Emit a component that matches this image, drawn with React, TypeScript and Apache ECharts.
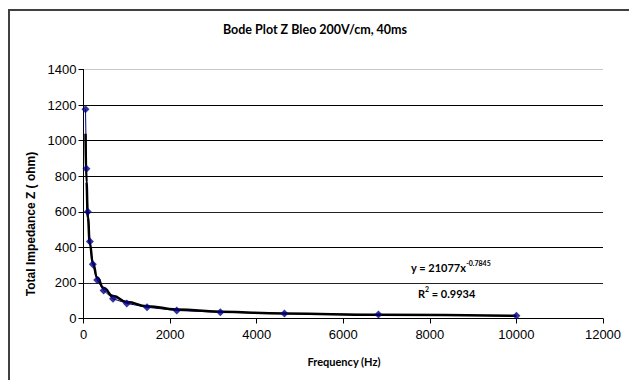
import React, { useEffect, useRef } from "react";
import * as echarts from "echarts";

const frequencies = [46.4, 68.1, 100, 146.8, 215.4, 316.2, 464.2, 681.3, 1000, 1468, 2154, 3162, 4642, 6813, 10000];
const impedance = [1177, 842, 600, 433, 305, 216, 158, 111, 85, 63, 45, 35, 28, 22, 15];
const trendValues = [1039, 768, 569, 421, 312, 230, 171, 126, 93, 69, 51, 38, 28, 21, 15];
const xTicks = { min: 0, max: 12000, interval: 2000 };
const yTicks = { min: 0, max: 1400, interval: 200 };
const titleText = "Bode Plot Z Bleo 200V/cm, 40ms";
const xName = "Frequency (Hz)";
const yName = "Total Impedance Z ( ohm)";

export default function App() {
  const ref = useRef<HTMLDivElement>(null);
  useEffect(() => {
    if (!ref.current) return;
    const chart = echarts.init(ref.current, null, { renderer: "svg" });
    const dataPts = frequencies.map((f, i) => [f, impedance[i]]);
    const trendPts = frequencies.map((f, i) => [f, trendValues[i]]);
    const gridColors = ["#000", "#222", "#000", "#222", "#000", "#000", "#000", "#c8c8c8"];
    const labelStyle = {
      color: "#000",
      fontFamily: "Liberation Sans, Arial, sans-serif",
      fontSize: 13,
      formatter: (v: number) => String(v),
    };
    chart.setOption({
      animation: false,
      backgroundColor: "#fff",
      textStyle: { fontFamily: "Liberation Sans, Arial, sans-serif" },
      grid: { left: 83.5, right: 26, top: 69.5, bottom: 61.5, containLabel: false },
      xAxis: {
        type: "value",
        min: xTicks.min,
        max: xTicks.max,
        interval: xTicks.interval,
        axisLine: { show: true, onZero: false, lineStyle: { color: "#000", width: 1 } },
        axisTick: { show: true, inside: false, length: 5, lineStyle: { color: "#000" } },
        axisLabel: { ...labelStyle, margin: 9 },
        splitLine: { show: false },
      },
      yAxis: {
        type: "value",
        min: yTicks.min,
        max: yTicks.max,
        interval: yTicks.interval,
        axisLine: { show: true, lineStyle: { color: "#000", width: 1 } },
        axisTick: { show: true, inside: false, length: 5, lineStyle: { color: "#000" } },
        axisLabel: { ...labelStyle, margin: 7 },
        splitLine: { show: true, lineStyle: { color: gridColors, width: 1 } },
      },
      series: [
        {
          type: "line",
          data: dataPts,
          symbol: "none",
          lineStyle: { color: "#000080", width: 1 },
          z: 2,
        },
        {
          type: "line",
          data: trendPts,
          smooth: true,
          smoothMonotone: "x",
          symbol: "none",
          lineStyle: { color: "#000", width: 2.5 },
          z: 3,
        },
        {
          type: "scatter",
          data: dataPts,
          symbol: "diamond",
          symbolSize: 8,
          itemStyle: { color: "#000080" },
          z: 4,
        },
      ],
      graphic: [
        {
          type: "rect",
          shape: { x: 9, y: 10, width: 800, height: 600 },
          style: { fill: "none", stroke: "#404040", lineWidth: 2 },
          silent: true,
        },
        {
          type: "text",
          x: 315,
          y: 29,
          style: {
            text: titleText,
            fill: "#000",
            font: "bold 12.5px Lato",
            textAlign: "center",
            textVerticalAlign: "middle",
          },
        },
        {
          type: "text",
          x: 344,
          y: 361,
          style: {
            text: xName,
            fill: "#000",
            font: "bold 11px Lato",
            textAlign: "center",
            textVerticalAlign: "middle",
          },
        },
        {
          type: "text",
          x: 31,
          y: 224,
          rotation: Math.PI / 2,
          style: {
            text: yName,
            fill: "#000",
            font: "bold 12px Liberation Sans",
            textAlign: "center",
            textVerticalAlign: "middle",
          },
        },
        {
          type: "text",
          x: 411,
          y: 266,
          style: {
            text: "{b|y = 21077x}{s|-0.7845}",
            textVerticalAlign: "middle",
            rich: {
              b: { font: "bold 11px Lato", fill: "#000", lineHeight: 14, verticalAlign: "bottom" },
              s: { font: "bold 7px Lato", fill: "#000", lineHeight: 14, verticalAlign: "top" },
            },
          },
        },
        {
          type: "text",
          x: 418,
          y: 292,
          style: {
            text: "{b|R}{s|2}{b| = 0.9934}",
            textVerticalAlign: "middle",
            rich: {
              b: { font: "bold 11px Lato", fill: "#000", lineHeight: 14, verticalAlign: "bottom" },
              s: { font: "bold 7px Lato", fill: "#000", lineHeight: 14, verticalAlign: "top" },
            },
          },
        },
      ],
    });
    return () => chart.dispose();
  }, []);
  return <div ref={ref} style={{ position: "fixed", left: 0, top: 0, width: 629, height: 380 }} />;
}
